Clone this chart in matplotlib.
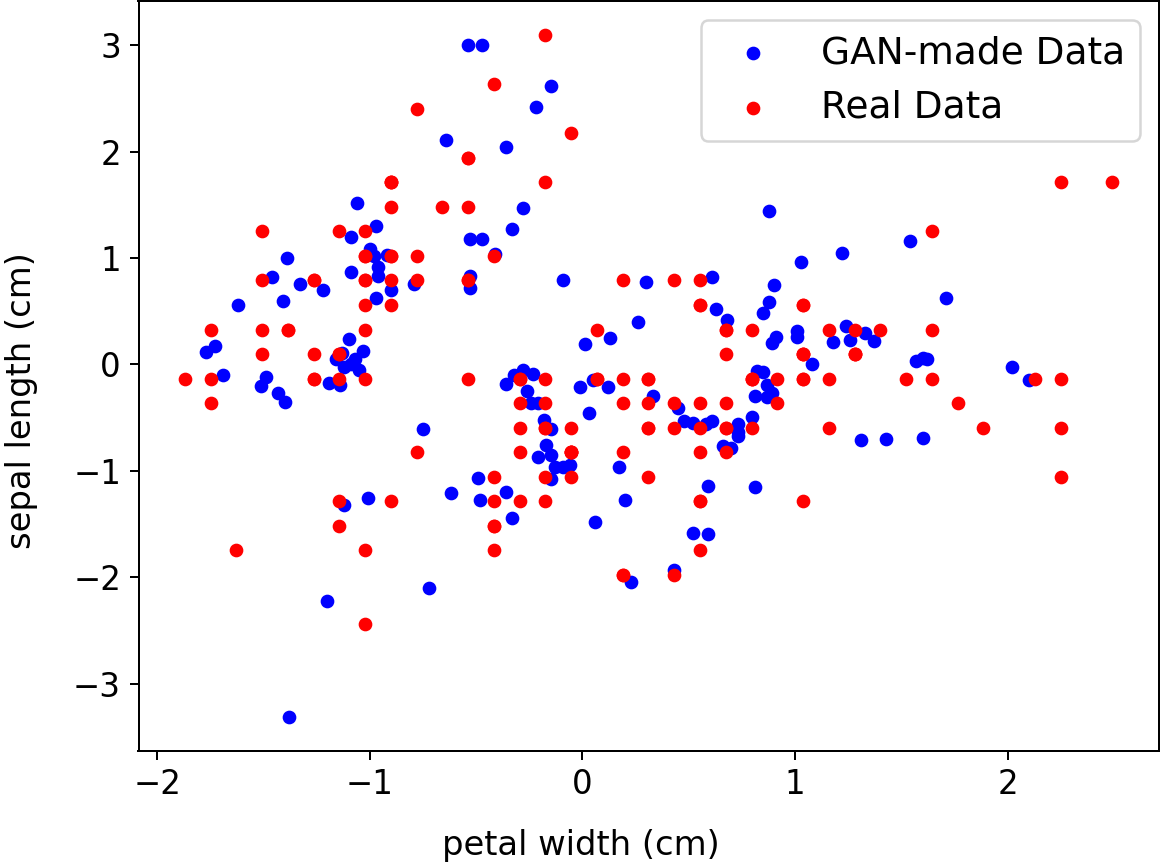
import numpy as np
import matplotlib
matplotlib.use("Agg")
import matplotlib.pyplot as plt

# iris (sklearn version): sepal length / sepal width in cm
sepal_length = [
    5.1, 4.9, 4.7, 4.6, 5.0, 5.4, 4.6, 5.0, 4.4, 4.9, 5.4, 4.8, 4.8, 4.3, 5.8, 5.7, 5.4, 5.1, 5.7, 5.1,
    5.4, 5.1, 4.6, 5.1, 4.8, 5.0, 5.0, 5.2, 5.2, 4.7, 4.8, 5.4, 5.2, 5.5, 4.9, 5.0, 5.5, 4.9, 4.4, 5.1,
    5.0, 4.5, 4.4, 5.0, 5.1, 4.8, 5.1, 4.6, 5.3, 5.0,
    7.0, 6.4, 6.9, 5.5, 6.5, 5.7, 6.3, 4.9, 6.6, 5.2, 5.0, 5.9, 6.0, 6.1, 5.6, 6.7, 5.6, 5.8, 6.2, 5.6,
    5.9, 6.1, 6.3, 6.1, 6.4, 6.6, 6.8, 6.7, 6.0, 5.7, 5.5, 5.5, 5.8, 6.0, 5.4, 6.0, 6.7, 6.3, 5.6, 5.5,
    5.5, 6.1, 5.8, 5.0, 5.6, 5.7, 5.7, 6.2, 5.1, 5.7,
    6.3, 5.8, 7.1, 6.3, 6.5, 7.6, 4.9, 7.3, 6.7, 7.2, 6.5, 6.4, 6.8, 5.7, 5.8, 6.4, 6.5, 7.7, 7.7, 6.0,
    6.9, 5.6, 7.7, 6.3, 6.7, 7.2, 6.2, 6.1, 6.4, 7.2, 7.4, 7.9, 6.4, 6.3, 6.1, 7.7, 6.3, 6.4, 6.0, 6.9,
    6.7, 6.9, 5.8, 6.8, 6.7, 6.7, 6.3, 6.5, 6.2, 5.9]
sepal_width = [
    3.5, 3.0, 3.2, 3.1, 3.6, 3.9, 3.4, 3.4, 2.9, 3.1, 3.7, 3.4, 3.0, 3.0, 4.0, 4.4, 3.9, 3.5, 3.8, 3.8,
    3.4, 3.7, 3.6, 3.3, 3.4, 3.0, 3.4, 3.5, 3.4, 3.2, 3.1, 3.4, 4.1, 4.2, 3.1, 3.2, 3.5, 3.6, 3.0, 3.4,
    3.5, 2.3, 3.2, 3.5, 3.8, 3.0, 3.8, 3.2, 3.7, 3.3,
    3.2, 3.2, 3.1, 2.3, 2.8, 2.8, 3.3, 2.4, 2.9, 2.7, 2.0, 3.0, 2.2, 2.9, 2.9, 3.1, 3.0, 2.7, 2.2, 2.5,
    3.2, 2.8, 2.5, 2.8, 2.9, 3.0, 2.8, 3.0, 2.9, 2.6, 2.4, 2.4, 2.7, 2.7, 3.0, 3.4, 3.1, 2.3, 3.0, 2.5,
    2.6, 3.0, 2.6, 2.3, 2.7, 3.0, 2.9, 2.9, 2.5, 2.8,
    3.3, 2.7, 3.0, 2.9, 3.0, 3.0, 2.5, 2.9, 2.5, 3.6, 3.2, 2.7, 3.0, 2.5, 2.8, 3.2, 3.0, 3.8, 2.6, 2.2,
    3.2, 2.8, 2.8, 2.7, 3.3, 3.2, 2.8, 3.0, 2.8, 3.0, 2.8, 3.8, 2.8, 2.8, 2.6, 3.0, 3.4, 3.1, 3.0, 3.1,
    3.1, 3.1, 2.7, 3.2, 3.3, 3.0, 2.5, 3.0, 3.4, 3.0]

# samples from the generator (already on the standardized scale)
gan_x = [
    -1.06, -0.97, -1.09, -1.00, -1.39, -0.92, -0.54, -0.47, -0.15, -0.22,
    -0.64, -0.36, -0.28, -0.33, -0.53, -0.47, -0.41, 0.88, 1.22, 1.03,
    1.54, -1.46, -1.33, -1.22, -1.41, -1.62, -1.09, -0.98, -0.96, -0.96,
    -0.90, -0.97, -1.10, -1.73, -1.77, -1.69, -1.49, -1.51, -1.43, -1.40,
    -1.03, -1.13, -1.16, -1.07, -1.09, -1.05, -1.12, -1.19, -1.14, -1.12,
    -1.01, -0.53, -0.53, -0.79, -0.09, 0.30, 0.26, 0.13, 0.01, -0.28,
    -0.23, -0.32, -0.36, -0.26, -0.24, -0.21, -0.01, 0.05, 0.12, 0.03,
    -0.75, -0.18, -0.15, -0.17, -0.21, -0.15, -0.13, -0.09, -0.06, -0.15,
    0.17, -0.49, -0.62, -0.36, -0.48, 0.20, 0.61, 0.63, 0.68, 0.90,
    0.88, 0.85, 0.91, 0.89, 1.01, 1.01, 1.08, 1.24, 1.18, 1.26,
    1.33, 1.37, 0.82, 0.85, 0.87, 0.89, 0.81, 0.87, 0.33, 0.45,
    0.48, 0.52, 0.58, 0.61, 0.73, 0.80, 0.73, 0.73, 0.66, 0.70,
    1.31, 1.43, 0.59, 0.81, 1.71, 1.57, 1.60, 1.62, 2.02, 2.10,
    1.60, -1.20, -1.38, -0.33, 0.06, -0.72, 0.23, 0.52, 0.59, 0.43]
gan_y = [
    1.52, 1.30, 1.20, 1.08, 1.00, 1.03, 3.00, 3.00, 2.62, 2.42,
    2.11, 2.04, 1.47, 1.27, 1.18, 1.18, 1.04, 1.44, 1.05, 0.96,
    1.16, 0.82, 0.76, 0.70, 0.60, 0.56, 0.87, 1.02, 0.92, 0.83,
    0.70, 0.62, 0.24, 0.17, 0.12, -0.10, -0.12, -0.20, -0.27, -0.35,
    0.13, 0.11, 0.05, 0.05, 0.00, -0.05, -0.02, -0.17, -0.19, -1.32,
    -1.25, 0.83, 0.72, 0.76, 0.79, 0.77, 0.40, 0.25, 0.19, -0.05,
    -0.09, -0.10, -0.18, -0.25, -0.36, -0.36, -0.21, -0.15, -0.21, -0.46,
    -0.61, -0.52, -0.61, -0.76, -0.87, -0.85, -0.96, -0.96, -0.94, -1.08,
    -0.96, -1.07, -1.21, -1.20, -1.27, -1.27, 0.82, 0.52, 0.42, 0.75,
    0.59, 0.48, 0.26, 0.20, 0.31, 0.26, 0.00, 0.36, 0.21, 0.23,
    0.30, 0.22, -0.06, -0.07, -0.19, -0.27, -0.30, -0.31, -0.30, -0.41,
    -0.53, -0.55, -0.56, -0.53, -0.56, -0.49, -0.67, -0.63, -0.77, -0.78,
    -0.71, -0.70, -1.14, -1.15, 0.62, 0.03, 0.06, 0.05, -0.02, -0.15,
    -0.69, -2.22, -3.31, -1.44, -1.48, -2.10, -2.04, -1.58, -1.59, -1.93]

# standardize the real measurements (zero mean, unit variance)
real = np.array([sepal_length, sepal_width]).T
real = (real - real.mean(axis=0)) / real.std(axis=0)

fig = plt.figure(figsize=(1161 / 180, 864 / 180), dpi=180)
ax = fig.add_axes([138.5 / 1161, 1 - 751 / 864, 1020 / 1161, 749.7 / 864])

ax.scatter(gan_x, gan_y, s=20, color="b", label="GAN-made Data")
ax.scatter(real[:, 0], real[:, 1], s=20, color="r", label="Real Data")

ax.set_xlabel("petal width (cm)", fontsize=13.5, labelpad=11)
ax.set_ylabel("sepal length (cm)", fontsize=13.5, labelpad=14)
# labels sit a bit off the axes centre
ax.xaxis.label.set_x(0.434)
ax.yaxis.label.set_y(0.467)
ax.tick_params(labelsize=13)
ax.legend(loc="upper right", fontsize=15)

fig.savefig("out.png", dpi=180)
